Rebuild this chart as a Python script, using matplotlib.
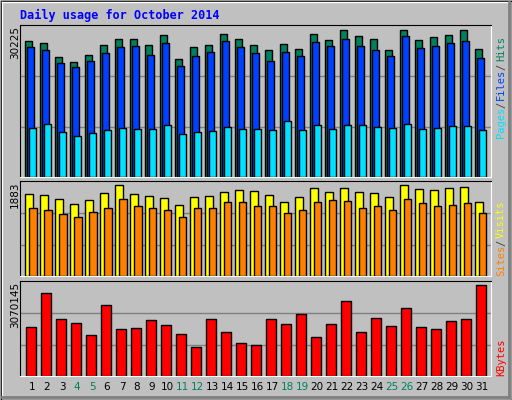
import matplotlib
matplotlib.use('Agg')
import matplotlib.pyplot as plt
from matplotlib.patches import Rectangle

days = list(range(1, 32))
weekend = [4, 5, 11, 12, 18, 19, 25, 26]

hits = [27170, 26770, 23980, 22990, 24380, 26370, 27570, 27570, 26370, 28370, 23590,
        25980, 26370, 28570, 27570, 26370, 25380, 26570, 25580, 28570, 27370, 29360,
        28170, 27570, 25380, 29360, 27370, 27970, 28370, 29360, 25580]
files = [25980, 25380, 22790, 21990, 23190, 24780, 25980, 26170, 24380, 26770, 22190,
         24180, 24980, 27170, 25980, 24780, 23190, 24980, 24180, 26970, 26170, 27570,
         26170, 25380, 24180, 28170, 25780, 26170, 26770, 27170, 23780]
pages = [9840, 10640, 9040, 8250, 8840, 9440, 9840, 9640, 9640, 10440, 8650, 9040,
         9240, 10040, 9640, 9640, 9440, 11230, 9440, 10440, 9640, 10440, 10440, 10040,
         9840, 10640, 9640, 9840, 10240, 10240, 9440]
sites = [1645, 1625, 1546, 1447, 1526, 1665, 1823, 1645, 1605, 1566, 1427, 1586, 1605,
         1685, 1724, 1705, 1625, 1487, 1586, 1764, 1685, 1764, 1685, 1665, 1586, 1823,
         1744, 1724, 1764, 1784, 1487]
visits = [1368, 1328, 1249, 1189, 1288, 1368, 1546, 1407, 1368, 1328, 1189, 1368, 1368,
          1487, 1487, 1407, 1407, 1268, 1328, 1487, 1526, 1506, 1368, 1407, 1328, 1546,
          1467, 1407, 1427, 1467, 1268]
kbytes = [1601, 2704, 1861, 1731, 1342, 2315, 1537, 1569, 1828, 1666, 1375, 953, 1861,
          1439, 1083, 1018, 1861, 1699, 2023, 1277, 1699, 2444, 1439, 1893, 1634, 2218,
          1601, 1537, 1796, 1861, 2963]
kbytes = [k * 1000 for k in kbytes]

W, H = 512, 400
fig = plt.figure(figsize=(W / 100, H / 100), dpi=100, facecolor='#C0C0C0')

# bevelled frame
bg = fig.add_axes([0, 0, 1, 1])
bg.set_xlim(0, W)
bg.set_ylim(H, 0)
bg.axis('off')
bg.add_patch(Rectangle((0.5, 0.5), W - 1, H - 1, fill=False, ec='black', lw=1))
bg.plot([1.5, W - 2], [1.5, 1.5], color='white', lw=1)
bg.plot([1.5, 1.5], [1.5, H - 2], color='white', lw=1)
bg.plot([W - 3, W - 3], [2, H - 3], color='#808080', lw=2)
bg.plot([2, W - 3], [H - 3, H - 3], color='#808080', lw=2)


def panel(top, h):
    ax = fig.add_axes([20 / W, 1 - (top + h) / H, 471 / W, h / H])
    ax.set_facecolor('#C0C0C0')
    ax.set_xlim(0, 31.4)
    ax.set_xticks([])
    ax.set_yticks([])
    for s in ['top', 'left']:
        ax.spines[s].set_color('black')
    for s in ['bottom', 'right']:
        ax.spines[s].set_color('white')
    return ax


x0 = [d - 1 for d in days]


def bars(ax, vals, off, w, color):
    ax.bar([x + off for x in x0], vals, width=w, align='edge', color=color,
           edgecolor='black', linewidth=1)


# top panel
ax1 = panel(25, 152)
ax1.set_ylim(0, 30225 * 1.005)
for g in [30225 / 3, 30225 * 2 / 3]:
    ax1.axhline(g, color='#808080', lw=1, zorder=0)
bars(ax1, hits, 0.35, 0.47, '#00805C')
bars(ax1, files, 0.48, 0.47, '#0040FF')
bars(ax1, pages, 0.61, 0.47, '#00E0FF')

# middle panel
ax2 = panel(181, 95)
ax2.set_ylim(0, 1883 * 1.01)
for g in [1883 / 3, 1883 * 2 / 3]:
    ax2.axhline(g, color='#808080', lw=1, zorder=0)
bars(ax2, sites, 0.35, 0.53, '#FFFF00')
bars(ax2, visits, 0.61, 0.49, '#FF8000')

# bottom panel
ax3 = panel(281, 95)
ax3.set_ylim(0, 3070145 * 1.01)
for g in [3070145 / 3, 3070145 * 2 / 3]:
    ax3.axhline(g, color='#808080', lw=1, zorder=0)
bars(ax3, kbytes, 0.42, 0.67, '#FF0000')

# day labels
for d, x in zip(days, x0):
    ax3.text(x + 0.8, -0.06, str(d), transform=ax3.get_xaxis_transform(),
             ha='center', va='top', fontsize=7.5,
             color='#00805C' if d in weekend else 'black')

bg.text(20, 15, 'Daily usage for October 2014', color='#0000FF', fontsize=8.5,
        family='DejaVu Sans Mono', fontweight='bold', va='center', ha='left')

# max labels
for y, t in [(25, '30225'), (181, '1883'), (281, '3070145')]:
    bg.text(15, y + 1, t, rotation=90, ha='center', va='top', fontsize=7.5)

# right legends (bottom to top)
def legend(parts, ybottom):
    y = ybottom
    for txt, col, size in parts:
        t = bg.text(501, y, txt, rotation=90, ha='center', va='bottom',
                    fontsize=7.5, color=col, family='DejaVu Sans Mono')
        y -= len(txt) * 5.4 + 3

legend([('Pages', '#00E0FF', 0), ('/', '#404040', 0), ('Files', '#0040FF', 0),
        ('/', '#404040', 0), ('Hits', '#00805C', 0)], 138)
legend([('Sites', '#FF8000', 0), ('/', '#404040', 0), ('Visits', '#FFFF00', 0)], 276)
legend([('KBytes', '#FF0000', 0)], 376)

fig.savefig('out.png', dpi=100, facecolor=fig.get_facecolor())
